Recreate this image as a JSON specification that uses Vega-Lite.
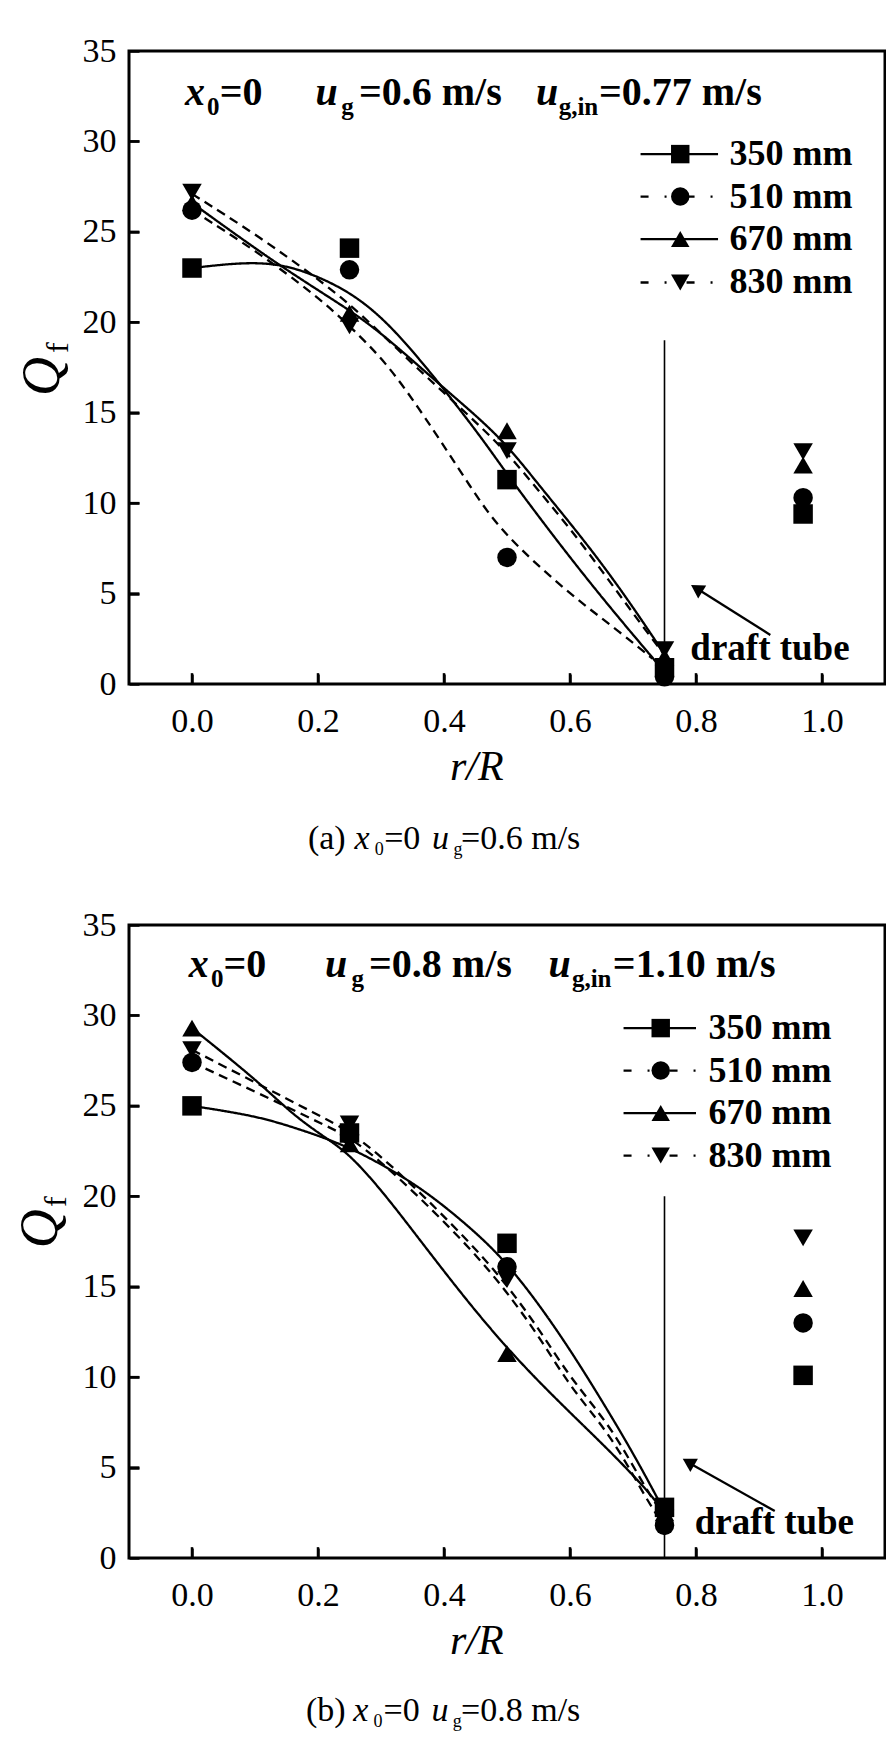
{
  "$schema": "https://vega.github.io/schema/vega-lite/v6.json",
  "padding": {"left": 12, "top": 32, "right": 0, "bottom": 0},
  "autosize": {"type": "pad"},
  "background": "white",
  "config": {
    "view": {"stroke": "black", "strokeWidth": 3},
    "font": "Liberation Serif",
    "axis": {"grid": false, "domain": false, "ticks": true, "tickSize": -10, "tickWidth": 2.5, "tickColor": "black", "tickOpacity": 1, "zindex": 2, "labelFont": "Liberation Serif", "labelFontSize": 34, "labelColor": "black", "labelOverlap": false}
  },
  "datasets": {
    "pts": [
      {"p": "a", "s": "350 mm", "x": 0, "y": 23.0}, {"p": "a", "s": "350 mm", "x": 0.25, "y": 24.1}, {"p": "a", "s": "350 mm", "x": 0.5, "y": 11.3}, {"p": "a", "s": "350 mm", "x": 0.75, "y": 0.9}, {"p": "a", "s": "350 mm", "x": 0.97, "y": 9.4},
      {"p": "a", "s": "510 mm", "x": 0, "y": 26.2}, {"p": "a", "s": "510 mm", "x": 0.25, "y": 22.9}, {"p": "a", "s": "510 mm", "x": 0.5, "y": 7.0}, {"p": "a", "s": "510 mm", "x": 0.75, "y": 0.4}, {"p": "a", "s": "510 mm", "x": 0.97, "y": 10.3},
      {"p": "a", "s": "670 mm", "x": 0, "y": 26.6}, {"p": "a", "s": "670 mm", "x": 0.25, "y": 20.5}, {"p": "a", "s": "670 mm", "x": 0.5, "y": 14.0}, {"p": "a", "s": "670 mm", "x": 0.75, "y": 1.5}, {"p": "a", "s": "670 mm", "x": 0.97, "y": 12.1},
      {"p": "a", "s": "830 mm", "x": 0, "y": 27.2}, {"p": "a", "s": "830 mm", "x": 0.25, "y": 19.8}, {"p": "a", "s": "830 mm", "x": 0.5, "y": 12.9}, {"p": "a", "s": "830 mm", "x": 0.75, "y": 1.9}, {"p": "a", "s": "830 mm", "x": 0.97, "y": 12.85},
      {"p": "b", "s": "350 mm", "x": 0, "y": 25.0}, {"p": "b", "s": "350 mm", "x": 0.25, "y": 23.5}, {"p": "b", "s": "350 mm", "x": 0.5, "y": 17.4}, {"p": "b", "s": "350 mm", "x": 0.75, "y": 2.8}, {"p": "b", "s": "350 mm", "x": 0.97, "y": 10.1},
      {"p": "b", "s": "510 mm", "x": 0, "y": 27.4}, {"p": "b", "s": "510 mm", "x": 0.25, "y": 23.4}, {"p": "b", "s": "510 mm", "x": 0.5, "y": 16.1}, {"p": "b", "s": "510 mm", "x": 0.75, "y": 1.8}, {"p": "b", "s": "510 mm", "x": 0.97, "y": 13.0},
      {"p": "b", "s": "670 mm", "x": 0, "y": 29.3}, {"p": "b", "s": "670 mm", "x": 0.25, "y": 22.9}, {"p": "b", "s": "670 mm", "x": 0.5, "y": 11.3}, {"p": "b", "s": "670 mm", "x": 0.75, "y": 2.5}, {"p": "b", "s": "670 mm", "x": 0.97, "y": 14.9},
      {"p": "b", "s": "830 mm", "x": 0, "y": 28.1}, {"p": "b", "s": "830 mm", "x": 0.25, "y": 24.0}, {"p": "b", "s": "830 mm", "x": 0.5, "y": 15.4}, {"p": "b", "s": "830 mm", "x": 0.75, "y": 2.2}, {"p": "b", "s": "830 mm", "x": 0.97, "y": 17.7}
    ],
    "crv": [
      {"p": "a", "s": "350 mm", "x": 0, "y": 23.0}, {"p": "a", "s": "350 mm", "x": 0.05, "y": 23.2}, {"p": "a", "s": "350 mm", "x": 0.096, "y": 23.3}, {"p": "a", "s": "350 mm", "x": 0.14, "y": 23.2}, {"p": "a", "s": "350 mm", "x": 0.19, "y": 22.7}, {"p": "a", "s": "350 mm", "x": 0.255, "y": 21.6}, {"p": "a", "s": "350 mm", "x": 0.31, "y": 20.0}, {"p": "a", "s": "350 mm", "x": 0.36, "y": 18.0}, {"p": "a", "s": "350 mm", "x": 0.4, "y": 16.3}, {"p": "a", "s": "350 mm", "x": 0.46, "y": 13.6}, {"p": "a", "s": "350 mm", "x": 0.5, "y": 11.6}, {"p": "a", "s": "350 mm", "x": 0.573, "y": 8.2}, {"p": "a", "s": "350 mm", "x": 0.652, "y": 4.7}, {"p": "a", "s": "350 mm", "x": 0.742, "y": 1.0},
      {"p": "a", "s": "510 mm", "x": 0, "y": 26.2}, {"p": "a", "s": "510 mm", "x": 0.1, "y": 24.0}, {"p": "a", "s": "510 mm", "x": 0.2, "y": 21.4}, {"p": "a", "s": "510 mm", "x": 0.25, "y": 19.8}, {"p": "a", "s": "510 mm", "x": 0.308, "y": 17.8}, {"p": "a", "s": "510 mm", "x": 0.361, "y": 15.2}, {"p": "a", "s": "510 mm", "x": 0.403, "y": 13.0}, {"p": "a", "s": "510 mm", "x": 0.44, "y": 11.0}, {"p": "a", "s": "510 mm", "x": 0.477, "y": 9.1}, {"p": "a", "s": "510 mm", "x": 0.52, "y": 7.5}, {"p": "a", "s": "510 mm", "x": 0.573, "y": 5.8}, {"p": "a", "s": "510 mm", "x": 0.625, "y": 4.3}, {"p": "a", "s": "510 mm", "x": 0.678, "y": 2.9}, {"p": "a", "s": "510 mm", "x": 0.731, "y": 1.4},
      {"p": "a", "s": "670 mm", "x": 0, "y": 26.6}, {"p": "a", "s": "670 mm", "x": 0.139, "y": 23.1}, {"p": "a", "s": "670 mm", "x": 0.25, "y": 20.7}, {"p": "a", "s": "670 mm", "x": 0.308, "y": 19.2}, {"p": "a", "s": "670 mm", "x": 0.398, "y": 16.4}, {"p": "a", "s": "670 mm", "x": 0.488, "y": 13.75}, {"p": "a", "s": "670 mm", "x": 0.546, "y": 11.2}, {"p": "a", "s": "670 mm", "x": 0.599, "y": 8.95}, {"p": "a", "s": "670 mm", "x": 0.652, "y": 6.6}, {"p": "a", "s": "670 mm", "x": 0.705, "y": 4.0}, {"p": "a", "s": "670 mm", "x": 0.747, "y": 1.8},
      {"p": "a", "s": "830 mm", "x": 0, "y": 27.1}, {"p": "a", "s": "830 mm", "x": 0.1, "y": 24.9}, {"p": "a", "s": "830 mm", "x": 0.2, "y": 22.4}, {"p": "a", "s": "830 mm", "x": 0.25, "y": 21.0}, {"p": "a", "s": "830 mm", "x": 0.3, "y": 19.4}, {"p": "a", "s": "830 mm", "x": 0.35, "y": 17.7}, {"p": "a", "s": "830 mm", "x": 0.4, "y": 16.1}, {"p": "a", "s": "830 mm", "x": 0.45, "y": 14.5}, {"p": "a", "s": "830 mm", "x": 0.5, "y": 12.8}, {"p": "a", "s": "830 mm", "x": 0.55, "y": 10.7}, {"p": "a", "s": "830 mm", "x": 0.6, "y": 8.6}, {"p": "a", "s": "830 mm", "x": 0.65, "y": 6.3}, {"p": "a", "s": "830 mm", "x": 0.7, "y": 3.9}, {"p": "a", "s": "830 mm", "x": 0.75, "y": 1.6},
      {"p": "b", "s": "350 mm", "x": 0, "y": 25.0}, {"p": "b", "s": "350 mm", "x": 0.0915, "y": 24.5}, {"p": "b", "s": "350 mm", "x": 0.145, "y": 24.0}, {"p": "b", "s": "350 mm", "x": 0.2136, "y": 23.2}, {"p": "b", "s": "350 mm", "x": 0.261, "y": 22.5}, {"p": "b", "s": "350 mm", "x": 0.304, "y": 21.7}, {"p": "b", "s": "350 mm", "x": 0.357, "y": 20.6}, {"p": "b", "s": "350 mm", "x": 0.41, "y": 19.2}, {"p": "b", "s": "350 mm", "x": 0.463, "y": 17.6}, {"p": "b", "s": "350 mm", "x": 0.499, "y": 16.3}, {"p": "b", "s": "350 mm", "x": 0.543, "y": 14.4}, {"p": "b", "s": "350 mm", "x": 0.596, "y": 11.75}, {"p": "b", "s": "350 mm", "x": 0.649, "y": 8.8}, {"p": "b", "s": "350 mm", "x": 0.702, "y": 5.7}, {"p": "b", "s": "350 mm", "x": 0.745, "y": 2.9},
      {"p": "b", "s": "510 mm", "x": 0, "y": 27.4}, {"p": "b", "s": "510 mm", "x": 0.1, "y": 25.8}, {"p": "b", "s": "510 mm", "x": 0.2, "y": 24.1}, {"p": "b", "s": "510 mm", "x": 0.25, "y": 23.3}, {"p": "b", "s": "510 mm", "x": 0.3, "y": 21.9}, {"p": "b", "s": "510 mm", "x": 0.35, "y": 20.3}, {"p": "b", "s": "510 mm", "x": 0.394, "y": 18.8}, {"p": "b", "s": "510 mm", "x": 0.45, "y": 16.8}, {"p": "b", "s": "510 mm", "x": 0.5, "y": 14.7}, {"p": "b", "s": "510 mm", "x": 0.55, "y": 12.3}, {"p": "b", "s": "510 mm", "x": 0.596, "y": 9.7}, {"p": "b", "s": "510 mm", "x": 0.64, "y": 7.8}, {"p": "b", "s": "510 mm", "x": 0.676, "y": 6.1}, {"p": "b", "s": "510 mm", "x": 0.724, "y": 3.1}, {"p": "b", "s": "510 mm", "x": 0.745, "y": 2.0},
      {"p": "b", "s": "670 mm", "x": 0, "y": 29.3}, {"p": "b", "s": "670 mm", "x": 0.107, "y": 26.3}, {"p": "b", "s": "670 mm", "x": 0.16, "y": 24.5}, {"p": "b", "s": "670 mm", "x": 0.2136, "y": 23.2}, {"p": "b", "s": "670 mm", "x": 0.251, "y": 22.3}, {"p": "b", "s": "670 mm", "x": 0.304, "y": 20.2}, {"p": "b", "s": "670 mm", "x": 0.357, "y": 17.8}, {"p": "b", "s": "670 mm", "x": 0.41, "y": 15.4}, {"p": "b", "s": "670 mm", "x": 0.463, "y": 13.1}, {"p": "b", "s": "670 mm", "x": 0.516, "y": 11.0}, {"p": "b", "s": "670 mm", "x": 0.569, "y": 9.1}, {"p": "b", "s": "670 mm", "x": 0.622, "y": 7.3}, {"p": "b", "s": "670 mm", "x": 0.675, "y": 5.5}, {"p": "b", "s": "670 mm", "x": 0.729, "y": 3.5}, {"p": "b", "s": "670 mm", "x": 0.747, "y": 2.6},
      {"p": "b", "s": "830 mm", "x": 0, "y": 28.1}, {"p": "b", "s": "830 mm", "x": 0.1, "y": 26.3}, {"p": "b", "s": "830 mm", "x": 0.2, "y": 24.5}, {"p": "b", "s": "830 mm", "x": 0.25, "y": 23.6}, {"p": "b", "s": "830 mm", "x": 0.3, "y": 22.2}, {"p": "b", "s": "830 mm", "x": 0.35, "y": 20.6}, {"p": "b", "s": "830 mm", "x": 0.394, "y": 19.1}, {"p": "b", "s": "830 mm", "x": 0.45, "y": 17.1}, {"p": "b", "s": "830 mm", "x": 0.5, "y": 15.1}, {"p": "b", "s": "830 mm", "x": 0.55, "y": 12.7}, {"p": "b", "s": "830 mm", "x": 0.596, "y": 10.2}, {"p": "b", "s": "830 mm", "x": 0.64, "y": 8.3}, {"p": "b", "s": "830 mm", "x": 0.676, "y": 6.6}, {"p": "b", "s": "830 mm", "x": 0.724, "y": 3.6}, {"p": "b", "s": "830 mm", "x": 0.75, "y": 2.3}
    ],
    "leg": [
      {"p": "a", "s": "350 mm", "y": 29.3}, {"p": "a", "s": "510 mm", "y": 26.95}, {"p": "a", "s": "670 mm", "y": 24.6}, {"p": "a", "s": "830 mm", "y": 22.2},
      {"p": "b", "s": "350 mm", "y": 29.3}, {"p": "b", "s": "510 mm", "y": 26.95}, {"p": "b", "s": "670 mm", "y": 24.6}, {"p": "b", "s": "830 mm", "y": 22.25}
    ],
    "xticks": [{"v": 0}, {"v": 0.2}, {"v": 0.4}, {"v": 0.6}, {"v": 0.8}, {"v": 1.0}],
    "yticks": [{"v": 5}, {"v": 10}, {"v": 15}, {"v": 20}, {"v": 25}, {"v": 30}],
    "hdrI": [
      {"p": "a", "x": -0.011, "t": "x"}, {"p": "a", "x": 0.196, "t": "u"}, {"p": "a", "x": 0.546, "t": "u"},
      {"p": "b", "x": -0.005, "t": "x"}, {"p": "b", "x": 0.211, "t": "u"}, {"p": "b", "x": 0.566, "t": "u"}
    ],
    "hdrS": [
      {"p": "a", "x": 0.024, "t": "0"}, {"p": "a", "x": 0.237, "t": "g"}, {"p": "a", "x": 0.582, "t": "g,in"},
      {"p": "b", "x": 0.03, "t": "0"}, {"p": "b", "x": 0.253, "t": "g"}, {"p": "b", "x": 0.603, "t": "g,in"}
    ],
    "hdrN": [
      {"p": "a", "x": 0.044, "t": "=0"}, {"p": "a", "x": 0.265, "t": "=0.6 m/s"}, {"p": "a", "x": 0.646, "t": "=0.77 m/s"},
      {"p": "b", "x": 0.05, "t": "=0"}, {"p": "b", "x": 0.281, "t": "=0.8 m/s"}, {"p": "b", "x": 0.668, "t": "=1.10 m/s"}
    ],
    "capN": [
      {"p": "a", "x": 0.184, "t": "(a)"}, {"p": "a", "x": 0.305, "t": "=0"}, {"p": "a", "x": 0.427, "t": "=0.6 m/s"},
      {"p": "b", "x": 0.181, "t": "(b)"}, {"p": "b", "x": 0.304, "t": "=0"}, {"p": "b", "x": 0.427, "t": "=0.8 m/s"}
    ],
    "capI": [
      {"p": "a", "x": 0.258, "t": "x"}, {"p": "a", "x": 0.381, "t": "u"},
      {"p": "b", "x": 0.256, "t": "x"}, {"p": "b", "x": 0.38, "t": "u"}
    ],
    "capS": [
      {"p": "a", "x": 0.29, "t": "0"}, {"p": "a", "x": 0.415, "t": "g"},
      {"p": "b", "x": 0.288, "t": "0"}, {"p": "b", "x": 0.414, "t": "g"}
    ]
  },
  "spacing": 241,
  "bounds": "flush",
  "vconcat": [
    {
      "width": 756,
      "height": 633,
      "resolve": {"scale": {"strokeDash": "independent"}},
      "layer": [
        {
          "data": {"name": "crv"},
          "transform": [{"filter": "datum.p === 'a'"}],
          "mark": {"type": "line", "interpolate": "basis", "strokeWidth": 2.3, "color": "black"},
          "encoding": {
            "x": {"field": "x", "type": "quantitative", "title": null, "scale": {"domain": [-0.1, 1.1], "nice": false, "zero": false}, "axis": {"values": [0, 0.2, 0.4, 0.6, 0.8, 1.0], "format": ".1f", "labelPadding": 30}},
            "y": {"field": "y", "type": "quantitative", "title": null, "scale": {"domain": [0, 35], "nice": false, "zero": false}, "axis": {"values": [0, 5, 10, 15, 20, 25, 30, 35], "format": "d", "labelPadding": 23}},
            "strokeDash": {"field": "s", "type": "nominal", "legend": null, "scale": {"domain": ["350 mm", "510 mm", "670 mm", "830 mm"], "range": [[1, 0], [9, 6], [1, 0], [9, 6]]}}
          }
        },
        {
          "data": {"name": "xticks"},
          "mark": {"type": "rule", "color": "black", "strokeWidth": 2.5, "opacity": 1},
          "encoding": {"x": {"field": "v", "type": "quantitative", "title": null}, "y": {"datum": 0, "type": "quantitative", "title": null}, "y2": {"datum": 0.6}}
        },
        {
          "data": {"name": "yticks"},
          "mark": {"type": "rule", "color": "black", "strokeWidth": 2.5, "opacity": 1},
          "encoding": {"y": {"field": "v", "type": "quantitative", "title": null}, "x": {"datum": -0.1, "type": "quantitative", "title": null}, "x2": {"datum": -0.0835}}
        },
        {
          "data": {"values": [{}]},
          "mark": {"type": "rule", "color": "black", "strokeWidth": 1.6},
          "encoding": {"x": {"datum": 0.75, "type": "quantitative", "title": null}, "y": {"datum": 0, "type": "quantitative", "title": null}, "y2": {"datum": 19}}
        },
        {
          "data": {"name": "pts"},
          "transform": [{"filter": "datum.p === 'a'"}],
          "mark": {"type": "point", "filled": true, "color": "black", "opacity": 1, "size": 380},
          "encoding": {
            "x": {"field": "x", "type": "quantitative", "title": null},
            "y": {"field": "y", "type": "quantitative", "title": null},
            "shape": {"field": "s", "type": "nominal", "legend": null, "scale": {"domain": ["350 mm", "510 mm", "670 mm", "830 mm"], "range": ["square", "circle", "triangle-up", "triangle-down"]}}
          }
        },
        {
          "data": {"values": [{}]},
          "mark": {"type": "rule", "color": "black", "strokeWidth": 2.3},
          "encoding": {"x": {"datum": 0.918, "type": "quantitative", "title": null}, "y": {"datum": 2.71, "type": "quantitative", "title": null}, "x2": {"datum": 0.805}, "y2": {"datum": 5.2}}
        },
        {
          "data": {"values": [{}]},
          "mark": {"type": "point", "shape": "triangle-up", "angle": 302, "filled": true, "color": "black", "opacity": 1, "size": 230},
          "encoding": {"x": {"datum": 0.801, "type": "quantitative", "title": null}, "y": {"datum": 5.28, "type": "quantitative", "title": null}}
        },
        {
          "data": {"values": [{}]},
          "mark": {"type": "text", "text": "draft tube", "font": "Liberation Serif", "fontWeight": "bold", "fontSize": 37, "align": "left", "baseline": "alphabetic", "color": "black"},
          "encoding": {"x": {"datum": 0.791, "type": "quantitative", "title": null}, "y": {"datum": 1.33, "type": "quantitative", "title": null}}
        },
        {
          "data": {"name": "leg"},
          "transform": [{"filter": "datum.p === 'a'"}],
          "mark": {"type": "rule", "color": "black", "strokeWidth": 2.3},
          "encoding": {
            "x": {"datum": 0.712, "type": "quantitative", "title": null},
            "x2": {"datum": 0.835},
            "y": {"field": "y", "type": "quantitative", "title": null},
            "strokeDash": {"field": "s", "type": "nominal", "legend": null, "scale": {"domain": ["350 mm", "510 mm", "670 mm", "830 mm"], "range": [[1, 0], [8, 16, 2, 20], [1, 0], [8, 16, 2, 20]]}}
          }
        },
        {
          "data": {"name": "leg"},
          "transform": [{"filter": "datum.p === 'a'"}],
          "mark": {"type": "point", "filled": true, "color": "black", "opacity": 1, "size": 340},
          "encoding": {
            "x": {"datum": 0.775, "type": "quantitative", "title": null},
            "y": {"field": "y", "type": "quantitative", "title": null},
            "shape": {"field": "s", "type": "nominal", "legend": null}
          }
        },
        {
          "data": {"name": "leg"},
          "transform": [{"filter": "datum.p === 'a'"}],
          "mark": {"type": "text", "font": "Liberation Serif", "fontWeight": "bold", "fontSize": 36, "align": "left", "baseline": "middle", "color": "black"},
          "encoding": {
            "x": {"datum": 0.853, "type": "quantitative", "title": null},
            "y": {"field": "y", "type": "quantitative", "title": null},
            "text": {"field": "s"}
          }
        },
        {
          "data": {"name": "hdrI"},
          "transform": [{"filter": "datum.p === 'a'"}],
          "mark": {"type": "text", "font": "Liberation Serif", "fontWeight": "bold", "fontStyle": "italic", "fontSize": 40, "align": "left", "baseline": "alphabetic", "color": "black"},
          "encoding": {"x": {"field": "x", "type": "quantitative", "title": null}, "y": {"datum": 32, "type": "quantitative", "title": null}, "text": {"field": "t"}}
        },
        {
          "data": {"name": "hdrS"},
          "transform": [{"filter": "datum.p === 'a'"}],
          "mark": {"type": "text", "font": "Liberation Serif", "fontWeight": "bold", "fontSize": 25, "align": "left", "baseline": "alphabetic", "color": "black"},
          "encoding": {"x": {"field": "x", "type": "quantitative", "title": null}, "y": {"datum": 31.45, "type": "quantitative", "title": null}, "text": {"field": "t"}}
        },
        {
          "data": {"name": "hdrN"},
          "transform": [{"filter": "datum.p === 'a'"}],
          "mark": {"type": "text", "font": "Liberation Serif", "fontWeight": "bold", "fontSize": 40, "align": "left", "baseline": "alphabetic", "color": "black"},
          "encoding": {"x": {"field": "x", "type": "quantitative", "title": null}, "y": {"datum": 32, "type": "quantitative", "title": null}, "text": {"field": "t"}}
        },
        {
          "data": {"values": [{}]},
          "mark": {"type": "text", "text": "Q", "font": "Liberation Serif", "fontStyle": "italic", "fontSize": 54, "angle": 270, "align": "center", "baseline": "middle", "color": "black"},
          "encoding": {"x": {"datum": -0.237, "type": "quantitative", "title": null}, "y": {"datum": 17.0, "type": "quantitative", "title": null}}
        },
        {
          "data": {"values": [{}]},
          "mark": {"type": "text", "text": "f", "font": "Liberation Serif", "fontSize": 32, "angle": 270, "align": "center", "baseline": "middle", "color": "black"},
          "encoding": {"x": {"datum": -0.213, "type": "quantitative", "title": null}, "y": {"datum": 18.6, "type": "quantitative", "title": null}}
        },
        {
          "data": {"values": [{}]},
          "mark": {"type": "text", "text": "r/R", "font": "Liberation Serif", "fontStyle": "italic", "fontSize": 42, "align": "center", "baseline": "alphabetic", "color": "black"},
          "encoding": {"x": {"datum": 0.452, "type": "quantitative", "title": null}, "y": {"datum": -5.3, "type": "quantitative", "title": null}}
        },
        {
          "data": {"name": "capN"},
          "transform": [{"filter": "datum.p === 'a'"}],
          "mark": {"type": "text", "font": "Liberation Serif", "fontSize": 34, "align": "left", "baseline": "alphabetic", "color": "black"},
          "encoding": {"x": {"field": "x", "type": "quantitative", "title": null}, "y": {"datum": -9.1, "type": "quantitative", "title": null}, "text": {"field": "t"}}
        },
        {
          "data": {"name": "capI"},
          "transform": [{"filter": "datum.p === 'a'"}],
          "mark": {"type": "text", "font": "Liberation Serif", "fontStyle": "italic", "fontSize": 34, "align": "left", "baseline": "alphabetic", "color": "black"},
          "encoding": {"x": {"field": "x", "type": "quantitative", "title": null}, "y": {"datum": -9.1, "type": "quantitative", "title": null}, "text": {"field": "t"}}
        },
        {
          "data": {"name": "capS"},
          "transform": [{"filter": "datum.p === 'a'"}],
          "mark": {"type": "text", "font": "Liberation Serif", "fontSize": 18, "align": "left", "baseline": "alphabetic", "color": "black"},
          "encoding": {"x": {"field": "x", "type": "quantitative", "title": null}, "y": {"datum": -9.45, "type": "quantitative", "title": null}, "text": {"field": "t"}}
        }
      ]
    },
    {
      "width": 756,
      "height": 633,
      "resolve": {"scale": {"strokeDash": "independent"}},
      "layer": [
        {
          "data": {"name": "crv"},
          "transform": [{"filter": "datum.p === 'b'"}],
          "mark": {"type": "line", "interpolate": "basis", "strokeWidth": 2.3, "color": "black"},
          "encoding": {
            "x": {"field": "x", "type": "quantitative", "title": null, "scale": {"domain": [-0.1, 1.1], "nice": false, "zero": false}, "axis": {"values": [0, 0.2, 0.4, 0.6, 0.8, 1.0], "format": ".1f", "labelPadding": 30}},
            "y": {"field": "y", "type": "quantitative", "title": null, "scale": {"domain": [0, 35], "nice": false, "zero": false}, "axis": {"values": [0, 5, 10, 15, 20, 25, 30, 35], "format": "d", "labelPadding": 23}},
            "strokeDash": {"field": "s", "type": "nominal", "legend": null, "scale": {"domain": ["350 mm", "510 mm", "670 mm", "830 mm"], "range": [[1, 0], [9, 6], [1, 0], [9, 6]]}}
          }
        },
        {
          "data": {"name": "xticks"},
          "mark": {"type": "rule", "color": "black", "strokeWidth": 2.5, "opacity": 1},
          "encoding": {"x": {"field": "v", "type": "quantitative", "title": null}, "y": {"datum": 0, "type": "quantitative", "title": null}, "y2": {"datum": 0.6}}
        },
        {
          "data": {"name": "yticks"},
          "mark": {"type": "rule", "color": "black", "strokeWidth": 2.5, "opacity": 1},
          "encoding": {"y": {"field": "v", "type": "quantitative", "title": null}, "x": {"datum": -0.1, "type": "quantitative", "title": null}, "x2": {"datum": -0.0835}}
        },
        {
          "data": {"values": [{}]},
          "mark": {"type": "rule", "color": "black", "strokeWidth": 1.6},
          "encoding": {"x": {"datum": 0.75, "type": "quantitative", "title": null}, "y": {"datum": 0, "type": "quantitative", "title": null}, "y2": {"datum": 20}}
        },
        {
          "data": {"name": "pts"},
          "transform": [{"filter": "datum.p === 'b'"}],
          "mark": {"type": "point", "filled": true, "color": "black", "opacity": 1, "size": 380},
          "encoding": {
            "x": {"field": "x", "type": "quantitative", "title": null},
            "y": {"field": "y", "type": "quantitative", "title": null},
            "shape": {"field": "s", "type": "nominal", "legend": null, "scale": {"domain": ["350 mm", "510 mm", "670 mm", "830 mm"], "range": ["square", "circle", "triangle-up", "triangle-down"]}}
          }
        },
        {
          "data": {"values": [{}]},
          "mark": {"type": "rule", "color": "black", "strokeWidth": 2.3},
          "encoding": {"x": {"datum": 0.925, "type": "quantitative", "title": null}, "y": {"datum": 2.6, "type": "quantitative", "title": null}, "x2": {"datum": 0.792}, "y2": {"datum": 5.2}}
        },
        {
          "data": {"values": [{}]},
          "mark": {"type": "point", "shape": "triangle-up", "angle": 300, "filled": true, "color": "black", "opacity": 1, "size": 230},
          "encoding": {"x": {"datum": 0.788, "type": "quantitative", "title": null}, "y": {"datum": 5.3, "type": "quantitative", "title": null}}
        },
        {
          "data": {"values": [{}]},
          "mark": {"type": "text", "text": "draft tube", "font": "Liberation Serif", "fontWeight": "bold", "fontSize": 37, "align": "left", "baseline": "alphabetic", "color": "black"},
          "encoding": {"x": {"datum": 0.798, "type": "quantitative", "title": null}, "y": {"datum": 1.33, "type": "quantitative", "title": null}}
        },
        {
          "data": {"name": "leg"},
          "transform": [{"filter": "datum.p === 'b'"}],
          "mark": {"type": "rule", "color": "black", "strokeWidth": 2.3},
          "encoding": {
            "x": {"datum": 0.685, "type": "quantitative", "title": null},
            "x2": {"datum": 0.8},
            "y": {"field": "y", "type": "quantitative", "title": null},
            "strokeDash": {"field": "s", "type": "nominal", "legend": null, "scale": {"domain": ["350 mm", "510 mm", "670 mm", "830 mm"], "range": [[1, 0], [8, 16, 2, 20], [1, 0], [8, 16, 2, 20]]}}
          }
        },
        {
          "data": {"name": "leg"},
          "transform": [{"filter": "datum.p === 'b'"}],
          "mark": {"type": "point", "filled": true, "color": "black", "opacity": 1, "size": 340},
          "encoding": {
            "x": {"datum": 0.744, "type": "quantitative", "title": null},
            "y": {"field": "y", "type": "quantitative", "title": null},
            "shape": {"field": "s", "type": "nominal", "legend": null}
          }
        },
        {
          "data": {"name": "leg"},
          "transform": [{"filter": "datum.p === 'b'"}],
          "mark": {"type": "text", "font": "Liberation Serif", "fontWeight": "bold", "fontSize": 36, "align": "left", "baseline": "middle", "color": "black"},
          "encoding": {
            "x": {"datum": 0.82, "type": "quantitative", "title": null},
            "y": {"field": "y", "type": "quantitative", "title": null},
            "text": {"field": "s"}
          }
        },
        {
          "data": {"name": "hdrI"},
          "transform": [{"filter": "datum.p === 'b'"}],
          "mark": {"type": "text", "font": "Liberation Serif", "fontWeight": "bold", "fontStyle": "italic", "fontSize": 40, "align": "left", "baseline": "alphabetic", "color": "black"},
          "encoding": {"x": {"field": "x", "type": "quantitative", "title": null}, "y": {"datum": 32.1, "type": "quantitative", "title": null}, "text": {"field": "t"}}
        },
        {
          "data": {"name": "hdrS"},
          "transform": [{"filter": "datum.p === 'b'"}],
          "mark": {"type": "text", "font": "Liberation Serif", "fontWeight": "bold", "fontSize": 25, "align": "left", "baseline": "alphabetic", "color": "black"},
          "encoding": {"x": {"field": "x", "type": "quantitative", "title": null}, "y": {"datum": 31.55, "type": "quantitative", "title": null}, "text": {"field": "t"}}
        },
        {
          "data": {"name": "hdrN"},
          "transform": [{"filter": "datum.p === 'b'"}],
          "mark": {"type": "text", "font": "Liberation Serif", "fontWeight": "bold", "fontSize": 40, "align": "left", "baseline": "alphabetic", "color": "black"},
          "encoding": {"x": {"field": "x", "type": "quantitative", "title": null}, "y": {"datum": 32.1, "type": "quantitative", "title": null}, "text": {"field": "t"}}
        },
        {
          "data": {"values": [{}]},
          "mark": {"type": "text", "text": "Q", "font": "Liberation Serif", "fontStyle": "italic", "fontSize": 54, "angle": 270, "align": "center", "baseline": "middle", "color": "black"},
          "encoding": {"x": {"datum": -0.24, "type": "quantitative", "title": null}, "y": {"datum": 18.2, "type": "quantitative", "title": null}}
        },
        {
          "data": {"values": [{}]},
          "mark": {"type": "text", "text": "f", "font": "Liberation Serif", "fontSize": 32, "angle": 270, "align": "center", "baseline": "middle", "color": "black"},
          "encoding": {"x": {"datum": -0.216, "type": "quantitative", "title": null}, "y": {"datum": 19.7, "type": "quantitative", "title": null}}
        },
        {
          "data": {"values": [{}]},
          "mark": {"type": "text", "text": "r/R", "font": "Liberation Serif", "fontStyle": "italic", "fontSize": 42, "align": "center", "baseline": "alphabetic", "color": "black"},
          "encoding": {"x": {"datum": 0.452, "type": "quantitative", "title": null}, "y": {"datum": -5.3, "type": "quantitative", "title": null}}
        },
        {
          "data": {"name": "capN"},
          "transform": [{"filter": "datum.p === 'b'"}],
          "mark": {"type": "text", "font": "Liberation Serif", "fontSize": 34, "align": "left", "baseline": "alphabetic", "color": "black"},
          "encoding": {"x": {"field": "x", "type": "quantitative", "title": null}, "y": {"datum": -9.0, "type": "quantitative", "title": null}, "text": {"field": "t"}}
        },
        {
          "data": {"name": "capI"},
          "transform": [{"filter": "datum.p === 'b'"}],
          "mark": {"type": "text", "font": "Liberation Serif", "fontStyle": "italic", "fontSize": 34, "align": "left", "baseline": "alphabetic", "color": "black"},
          "encoding": {"x": {"field": "x", "type": "quantitative", "title": null}, "y": {"datum": -9.0, "type": "quantitative", "title": null}, "text": {"field": "t"}}
        },
        {
          "data": {"name": "capS"},
          "transform": [{"filter": "datum.p === 'b'"}],
          "mark": {"type": "text", "font": "Liberation Serif", "fontSize": 18, "align": "left", "baseline": "alphabetic", "color": "black"},
          "encoding": {"x": {"field": "x", "type": "quantitative", "title": null}, "y": {"datum": -9.35, "type": "quantitative", "title": null}, "text": {"field": "t"}}
        }
      ]
    }
  ]
}
